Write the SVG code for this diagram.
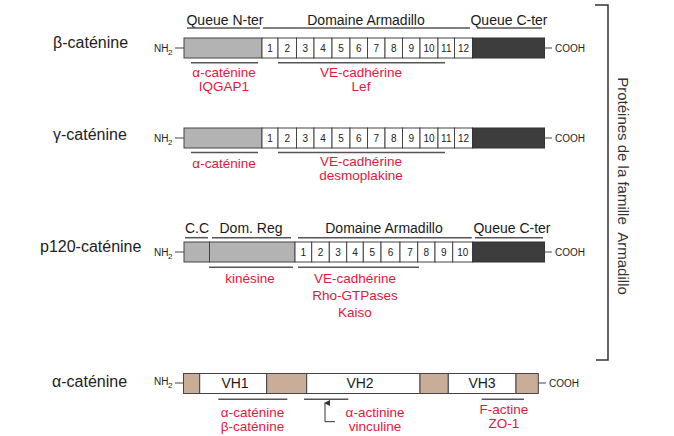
<svg xmlns="http://www.w3.org/2000/svg" width="674" height="436" viewBox="0 0 674 436">
<style>
text{font-family:"Liberation Sans",Arial,sans-serif}
.title{font-size:16px;fill:#222}
.hdr{font-size:14px;fill:#1a1a1a;text-anchor:middle}
.red{font-size:13.5px;fill:#e4163e;text-anchor:middle}
.num{font-size:10px;fill:#222;text-anchor:middle}
.small{font-size:10px;fill:#222}
.sub{font-size:8px;fill:#222}
.vh{font-size:14px;fill:#1a1a1a;text-anchor:middle}
.gray{fill:#b3b3b3;stroke:#444;stroke-width:1}
.dark{fill:#3d3d3d;stroke:#333;stroke-width:1}
.box{fill:#fff;stroke:#444;stroke-width:1}
.tan{fill:#c9ad98;stroke:#444;stroke-width:1}
.ln{stroke:#555;stroke-width:1.5;fill:none}
.tick{stroke:#444;stroke-width:1;fill:none}
</style>
<defs>
<marker id="arr" viewBox="0 0 6 6" refX="3" refY="1" markerWidth="6" markerHeight="6" orient="auto-start-reverse" markerUnits="userSpaceOnUse">
<path d="M0,6 L3,0 L6,6 Z" fill="#333"/>
</marker>
</defs>
<rect width="674" height="436" fill="#fff"/>

<g id="beta-catenine">
<text class="title" x="53" y="48">β-caténine</text>
<text class="hdr" x="225" y="25">Queue N-ter</text>
<text class="hdr" x="366" y="25">Domaine Armadillo</text>
<text class="hdr" x="509" y="25">Queue C-ter</text>
<text class="small" x="154" y="52">NH</text><text class="sub" x="168" y="55">2</text>
<line class="tick" x1="175" y1="48" x2="184" y2="48"/>
<rect class="gray" x="184" y="38" width="78" height="20"/>
<rect class="box" x="262" y="38" width="16" height="20"/>
<rect class="box" x="278" y="38" width="18.5" height="20"/>
<rect class="box" x="296.5" y="38" width="17.5" height="20"/>
<rect class="box" x="314" y="38" width="18" height="20"/>
<rect class="box" x="332" y="38" width="18" height="20"/>
<rect class="box" x="350" y="38" width="17.5" height="20"/>
<rect class="box" x="367.5" y="38" width="17.5" height="20"/>
<rect class="box" x="385" y="38" width="17.5" height="20"/>
<rect class="box" x="402.5" y="38" width="17.5" height="20"/>
<rect class="box" x="420" y="38" width="18" height="20"/>
<rect class="box" x="438" y="38" width="16.5" height="20"/>
<rect class="box" x="454.5" y="38" width="18" height="20"/>
<rect class="dark" x="472.5" y="38" width="72" height="20"/>
<g>
<text class="num" x="270" y="52">1</text>
<text class="num" x="287.3" y="52">2</text>
<text class="num" x="305.3" y="52">3</text>
<text class="num" x="323" y="52">4</text>
<text class="num" x="341" y="52">5</text>
<text class="num" x="358.8" y="52">6</text>
<text class="num" x="376.3" y="52">7</text>
<text class="num" x="393.8" y="52">8</text>
<text class="num" x="411.3" y="52">9</text>
<text class="num" x="429" y="52">10</text>
<text class="num" x="446.3" y="52">11</text>
<text class="num" x="463.5" y="52">12</text>
</g>
<line class="tick" x1="544.5" y1="48" x2="552" y2="48"/>
<text class="small" x="555" y="52">COOH</text>
<text class="red" x="224" y="76.5">α-caténine</text>
<text class="red" x="224" y="90.5">IQGAP1</text>
<text class="red" x="361" y="76.5">VE-cadhérine</text>
<text class="red" x="361" y="90.5">Lef</text>
</g>

<g id="gamma-catenine">
<text class="title" x="53" y="140">γ-caténine</text>
<text class="small" x="154" y="142">NH</text><text class="sub" x="168" y="145">2</text>
<line class="tick" x1="175" y1="138" x2="184" y2="138"/>
<rect class="gray" x="184" y="128" width="78" height="20"/>
<rect class="box" x="262" y="128" width="16" height="20"/>
<rect class="box" x="278" y="128" width="18.5" height="20"/>
<rect class="box" x="296.5" y="128" width="17.5" height="20"/>
<rect class="box" x="314" y="128" width="18" height="20"/>
<rect class="box" x="332" y="128" width="18" height="20"/>
<rect class="box" x="350" y="128" width="17.5" height="20"/>
<rect class="box" x="367.5" y="128" width="17.5" height="20"/>
<rect class="box" x="385" y="128" width="17.5" height="20"/>
<rect class="box" x="402.5" y="128" width="17.5" height="20"/>
<rect class="box" x="420" y="128" width="18" height="20"/>
<rect class="box" x="438" y="128" width="16.5" height="20"/>
<rect class="box" x="454.5" y="128" width="18" height="20"/>
<rect class="dark" x="472.5" y="128" width="72" height="20"/>
<g>
<text class="num" x="270" y="142">1</text>
<text class="num" x="287.3" y="142">2</text>
<text class="num" x="305.3" y="142">3</text>
<text class="num" x="323" y="142">4</text>
<text class="num" x="341" y="142">5</text>
<text class="num" x="358.8" y="142">6</text>
<text class="num" x="376.3" y="142">7</text>
<text class="num" x="393.8" y="142">8</text>
<text class="num" x="411.3" y="142">9</text>
<text class="num" x="429" y="142">10</text>
<text class="num" x="446.3" y="142">11</text>
<text class="num" x="463.5" y="142">12</text>
</g>
<line class="tick" x1="544.5" y1="138" x2="552" y2="138"/>
<text class="small" x="555" y="142">COOH</text>
<text class="red" x="224" y="168">α-caténine</text>
<text class="red" x="361" y="165.5">VE-cadhérine</text>
<text class="red" x="361" y="179.5">desmoplakine</text>
</g>

<g id="p120-catenine">
<text class="title" x="40" y="252">p120-caténine</text>
<text class="hdr" x="197" y="233">C.C</text>
<text class="hdr" x="251" y="233">Dom. Reg</text>
<text class="hdr" x="384" y="233">Domaine Armadillo</text>
<text class="hdr" x="512" y="233">Queue C-ter</text>
<text class="small" x="154" y="256">NH</text><text class="sub" x="168" y="259">2</text>
<line class="tick" x1="175" y1="252" x2="184" y2="252"/>
<rect class="gray" x="184" y="242" width="25.5" height="20"/>
<rect class="gray" x="209.5" y="242" width="85.5" height="20"/>
<rect class="box" x="295" y="242" width="16.7" height="20"/>
<rect class="box" x="311.7" y="242" width="17.6" height="20"/>
<rect class="box" x="329.3" y="242" width="17.4" height="20"/>
<rect class="box" x="346.7" y="242" width="16.6" height="20"/>
<rect class="box" x="363.3" y="242" width="17.7" height="20"/>
<rect class="box" x="381" y="242" width="19" height="20"/>
<rect class="box" x="400" y="242" width="17.7" height="20"/>
<rect class="box" x="417.7" y="242" width="17.3" height="20"/>
<rect class="box" x="435" y="242" width="17.7" height="20"/>
<rect class="box" x="452.7" y="242" width="20" height="20"/>
<rect class="dark" x="472.7" y="242" width="71.8" height="20"/>
<g>
<text class="num" x="303.3" y="256">1</text>
<text class="num" x="320.5" y="256">2</text>
<text class="num" x="338" y="256">3</text>
<text class="num" x="355" y="256">4</text>
<text class="num" x="372.2" y="256">5</text>
<text class="num" x="390.5" y="256">6</text>
<text class="num" x="410" y="256">7</text>
<text class="num" x="426.3" y="256">8</text>
<text class="num" x="443.8" y="256">9</text>
<text class="num" x="462.7" y="256">10</text>
</g>
<line class="tick" x1="544.5" y1="252" x2="552" y2="252"/>
<text class="small" x="555" y="256">COOH</text>
<text class="red" x="250" y="283">kinésine</text>
<text class="red" x="355" y="283">VE-cadhérine</text>
<text class="red" x="355" y="300">Rho-GTPases</text>
<text class="red" x="355" y="317">Kaiso</text>
</g>

<g id="alpha-catenine">
<text class="title" x="52" y="387">α-caténine</text>
<text class="small" x="154" y="385">NH</text><text class="sub" x="168" y="388">2</text>
<line class="tick" x1="175" y1="383" x2="183.5" y2="383"/>
<rect class="tan" x="183.5" y="373.5" width="16.2" height="20"/>
<rect class="box" x="199.7" y="373.5" width="67" height="20"/>
<rect class="tan" x="266.7" y="373.5" width="40" height="20"/>
<rect class="box" x="306.7" y="373.5" width="113.3" height="20"/>
<rect class="tan" x="420" y="373.5" width="28.3" height="20"/>
<rect class="box" x="448.3" y="373.5" width="67.7" height="20"/>
<rect class="tan" x="516" y="373.5" width="22.3" height="20"/>
<text class="vh" x="235" y="388">VH1</text>
<text class="vh" x="360" y="388">VH2</text>
<text class="vh" x="482" y="388">VH3</text>
<line class="tick" x1="538.3" y1="383" x2="546" y2="383"/>
<text class="small" x="549" y="387">COOH</text>
<text class="red" x="252.5" y="416.5">α-caténine</text>
<text class="red" x="252.5" y="430.5">β-caténine</text>
<text class="red" x="375" y="416.5">α-actinine</text>
<text class="red" x="375" y="430.5">vinculine</text>
<text class="red" x="504" y="414">F-actine</text>
<text class="red" x="504" y="428">ZO-1</text>
</g>

<g id="famille-armadillo">
<path class="ln" d="M595,5 H608 V360 H596" style="stroke:#333"/>
<text transform="translate(618,186) rotate(90)" xml:space="preserve" style="font-size:15px;fill:#333;text-anchor:middle">Protéines de la famille  Armadillo</text>
</g>

<g id="connectors">
<line class="ln" x1="187" y1="28" x2="260" y2="28"/>
<line class="ln" x1="263" y1="28" x2="470" y2="28"/>
<line class="ln" x1="477" y1="28" x2="542" y2="28"/>
<line class="ln" x1="191" y1="62.7" x2="258" y2="62.7"/>
<line class="ln" x1="278" y1="62.7" x2="445" y2="62.7"/>
<line class="ln" x1="191" y1="152.5" x2="258" y2="152.5"/>
<line class="ln" x1="278" y1="152.5" x2="445" y2="152.5"/>
<line class="ln" x1="185" y1="237.7" x2="208" y2="237.7"/>
<line class="ln" x1="212" y1="237.7" x2="291" y2="237.7"/>
<line class="ln" x1="298" y1="237.7" x2="471.7" y2="237.7"/>
<line class="ln" x1="475" y1="237.7" x2="543" y2="237.7"/>
<line class="ln" x1="209" y1="267.3" x2="293" y2="267.3"/>
<line class="ln" x1="298" y1="267.3" x2="419" y2="267.3"/>
<line class="ln" x1="218.3" y1="399.3" x2="287.3" y2="399.3"/>
<line class="ln" x1="304" y1="399.3" x2="348.3" y2="399.3"/>
<line class="ln" x1="481.7" y1="399.3" x2="524" y2="399.3"/>
<path d="M335,421.7 H325 V403" fill="none" stroke="#333" stroke-width="1" marker-end="url(#arr)"/>
</g>
</svg>
